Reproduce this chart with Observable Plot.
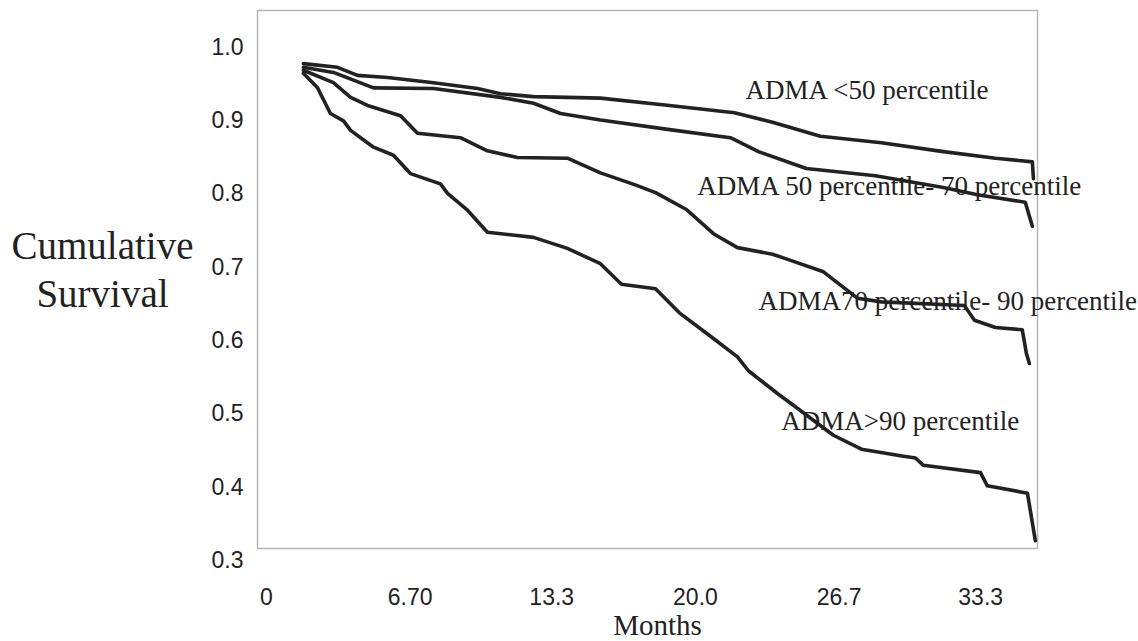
<!DOCTYPE html>
<html>
<head>
<meta charset="utf-8">
<script src="https://cdn.jsdelivr.net/npm/d3@7"></script>
<script src="https://cdn.jsdelivr.net/npm/@observablehq/plot@0.6"></script>
<style>
  html, body { margin: 0; padding: 0; background: #fff; }
  #chart svg { display: block; overflow: visible; }
</style>
</head>
<body>
<div id="chart"></div>
<script>
// ---- data ----
const seriesNames = [
  "ADMA <50 percentile",
  "ADMA 50 percentile- 70 percentile",
  "ADMA70 percentile- 90 percentile",
  "ADMA>90 percentile"
];

const lt50Months = [1.72, 3.31, 4.24, 5.64, 7.79, 9.84, 10.91, 12.45, 15.57, 18.79, 21.82, 23.59, 25.83, 28.67, 31.56, 33.99, 35.71, 35.76];
const lt50Surv   = [0.978, 0.973, 0.962, 0.959, 0.952, 0.944, 0.937, 0.933, 0.931, 0.921, 0.911, 0.898, 0.879, 0.870, 0.858, 0.849, 0.844, 0.821];

const p5070Months = [1.72, 3.12, 4.99, 7.79, 10.91, 12.45, 13.71, 15.57, 18.79, 21.63, 22.94, 25.17, 28.39, 31.56, 33.15, 35.38, 35.71];
const p5070Surv   = [0.973, 0.966, 0.945, 0.944, 0.932, 0.924, 0.910, 0.901, 0.888, 0.877, 0.858, 0.835, 0.825, 0.809, 0.799, 0.789, 0.756];

const p7090Months = [1.72, 3.12, 3.92, 4.71, 6.25, 7.04, 9.04, 10.30, 11.70, 14.03, 15.57, 17.16, 18.14, 19.58, 20.84, 21.96, 23.59, 24.20, 25.97, 27.55, 28.67, 32.54, 33.01, 33.99, 35.24, 35.43, 35.57];
const p7090Surv   = [0.969, 0.952, 0.932, 0.921, 0.907, 0.883, 0.877, 0.859, 0.850, 0.849, 0.829, 0.813, 0.802, 0.779, 0.746, 0.727, 0.718, 0.712, 0.694, 0.658, 0.653, 0.648, 0.628, 0.618, 0.615, 0.583, 0.569];

const gt90Months = [1.72, 2.38, 2.98, 3.59, 3.92, 4.99, 5.92, 6.71, 8.11, 8.44, 9.37, 10.30, 12.45, 14.03, 15.57, 16.55, 18.14, 19.25, 20.70, 21.96, 22.47, 23.87, 24.52, 26.43, 27.74, 29.56, 30.26, 30.63, 33.29, 33.61, 35.48, 35.85];
const gt90Surv   = [0.965, 0.945, 0.910, 0.900, 0.887, 0.864, 0.853, 0.828, 0.814, 0.801, 0.778, 0.748, 0.741, 0.726, 0.705, 0.677, 0.671, 0.638, 0.606, 0.578, 0.559, 0.527, 0.513, 0.471, 0.452, 0.443, 0.440, 0.430, 0.420, 0.402, 0.392, 0.327];

const xTicks = [0, 6.7, 13.3, 20.0, 26.7, 33.3];
const xTickLabels = ["0", "6.70", "13.3", "20.0", "26.7", "33.3"];
const yTicks = [0.3, 0.4, 0.5, 0.6, 0.7, 0.8, 0.9, 1.0];
const yTickLabels = ["0.3", "0.4", "0.5", "0.6", "0.7", "0.8", "0.9", "1.0"];

const labelMonths = [22.33, 20.09, 22.94, 24.0];
const labelSurv   = [0.941, 0.810, 0.653, 0.490];

const xTitle = "Months";
const yTitle = "Cumulative\nSurvival";

// ---- build table ----
const monthsBySeries = [lt50Months, p5070Months, p7090Months, gt90Months];
const survBySeries = [lt50Surv, p5070Surv, p7090Surv, gt90Surv];
const rows = [];
seriesNames.forEach((name, i) => {
  monthsBySeries[i].forEach((m, j) => rows.push({series: name, month: m, surv: survBySeries[i][j]}));
});
const labels = seriesNames.map((name, i) => ({text: name, month: labelMonths[i], surv: labelSurv[i]}));

const sans = "'Liberation Sans', Arial, sans-serif";
const serif = "'Liberation Serif', 'Times New Roman', serif";
const ink = "#222";

const chart = Plot.plot({
  width: 1138,
  height: 641,
  marginLeft: 257,
  marginRight: 101,
  marginTop: 10,
  marginBottom: 93,
  style: {background: "#fff", color: ink},
  x: {domain: [-0.42, 35.95]},
  y: {domain: [0.3165, 1.0505]},
  marks: [
    Plot.frame({stroke: "#b5b5b5", strokeWidth: 1.5}),
    Plot.axisX({
      ticks: xTicks,
      tickFormat: (d) => xTickLabels[xTicks.indexOf(d)],
      tickSize: 0,
      tickPadding: 40,
      fontSize: 23,
      fontFamily: sans,
      fill: ink,
      label: null
    }),
    Plot.axisY({
      ticks: yTicks,
      tickFormat: (d) => yTickLabels[yTicks.indexOf(d)],
      tickSize: 0,
      tickPadding: 14,
      fontSize: 23,
      fontFamily: sans,
      fill: ink,
      label: null
    }),
    Plot.line(rows, {
      x: "month", y: "surv", z: "series",
      stroke: ink, strokeWidth: 3.6,
      strokeLinejoin: "round", strokeLinecap: "round"
    }),
    Plot.text(labels, {
      x: "month", y: "surv", text: "text",
      textAnchor: "start", lineAnchor: "middle",
      fontSize: 27, fontFamily: serif, fill: ink
    }),
    Plot.text([xTitle], {
      frameAnchor: "bottom", dx: 10, dy: 77,
      lineAnchor: "middle", textAnchor: "middle",
      fontSize: 29, fontFamily: serif, fill: ink
    }),
    Plot.text([yTitle], {
      frameAnchor: "left", dx: -155, dy: -12,
      lineAnchor: "middle", textAnchor: "middle", lineHeight: 1.24,
      fontSize: 39, fontFamily: serif, fill: ink
    })
  ]
});
document.getElementById("chart").appendChild(chart);
</script>
</body>
</html>
